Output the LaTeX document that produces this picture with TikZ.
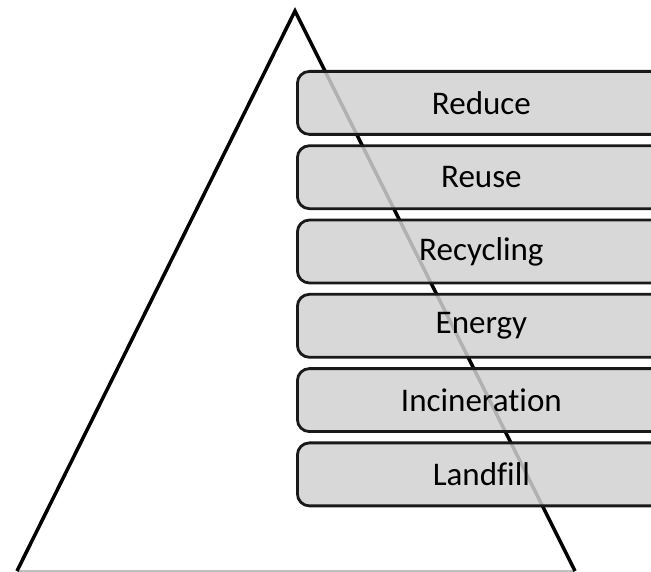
\documentclass[tikz,border=0pt]{standalone}
\usepackage{fontspec}
\setmainfont{Carlito}[Ligatures=NoCommon]
\usepackage{xcolor}
\usetikzlibrary{positioning}

\tikzset{stepbox/.style={draw=black!90, line width=1.6pt, rounded corners=0.24cm,
    fill=black!18, fill opacity=0.85, text opacity=1,
    minimum width=7.36cm, minimum height=1.26cm, inner sep=0pt}}

\begin{document}
\begin{tikzpicture}[x=0.02cm, y=-0.02cm, node distance=0.17cm,
    every node/.style={font=\fontsize{18.8}{22}\selectfont}]
\useasboundingbox (0,0) rectangle (651,571);
\clip (0,0) rectangle (651,571);
% pyramid
\coordinate (apex) at (295,11);
\coordinate (baseL) at (17,571);
\coordinate (baseR) at (575,571);
\draw[black!25, line width=0.9pt] (baseL) -- (baseR);
\draw[line width=2pt] (baseL) -- (apex) -- (baseR);
% steps of the hierarchy
\node[stepbox, anchor=north west] (reduce) at (296,70) {Reduce};
\node[stepbox, below=of reduce] (reuse) {Reuse};
\node[stepbox, below=of reuse] (recycling) {Recycling};
\node[stepbox, below=of recycling] (energy) {Energy};
\node[stepbox, below=of energy] (incineration) {Incineration};
\node[stepbox, below=of incineration] (landfill) {Landfill};
\end{tikzpicture}
\end{document}
